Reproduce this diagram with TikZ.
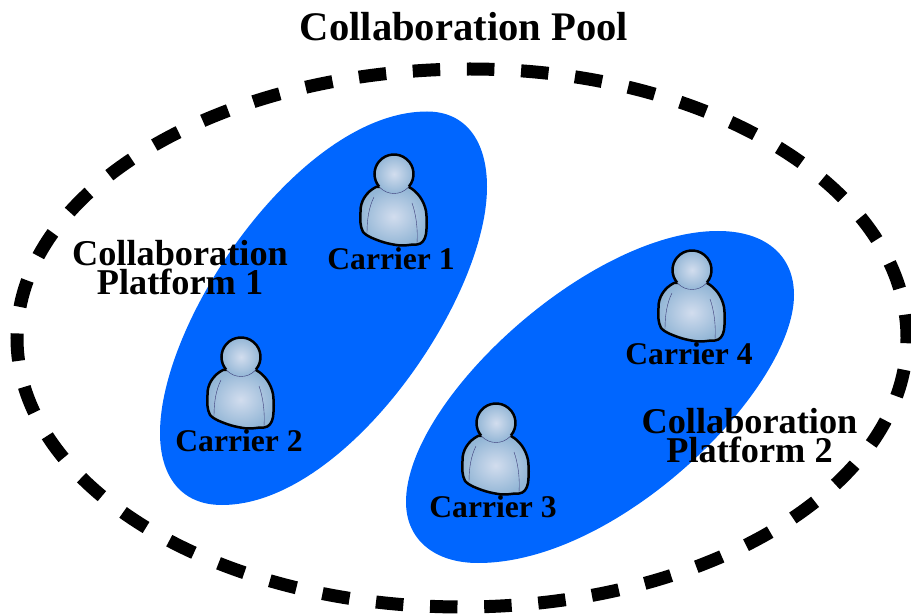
\documentclass[tikz,border=0pt]{standalone}
\usepackage{fontspec}
\setmainfont{Liberation Serif}
\definecolor{platformblue}{HTML}{0066FF}
\definecolor{bodyinner}{HTML}{D2DDEE}
\definecolor{bodyouter}{HTML}{93B6D6}
\definecolor{creaseline}{HTML}{3C3C78}
\begin{document}
\begin{tikzpicture}[x=1pt,y=1pt,inner sep=0pt,outer sep=0pt,
platform/.style={fill=platformblue},
pool/.style={line width=13pt,dash pattern=on 27.5pt off 26.7pt,dash phase=4pt},
titletext/.style={font=\fontsize{40.6}{41}\selectfont\bfseries},
platformtext/.style={font=\fontsize{36.3}{28.5}\selectfont\bfseries,align=center},
carriertext/.style={font=\fontsize{31.6}{32}\selectfont\bfseries},
carrier/.pic={
  \draw[line width=2.5pt,inner color=bodyinner,outer color=bodyouter,line join=round]
    (-18,-13) .. controls (-28,-18) and (-34,-28) .. (-33.5,-38)
    .. controls (-34,-46) and (-34,-52) .. (-31,-58)
    .. controls (-28,-61) and (-26,-62) .. (-23,-63.5)
    .. controls (-15,-67) and (-7,-70) .. (6,-71.5)
    .. controls (12,-72) and (18,-70) .. (23,-70.5)
    .. controls (28,-70) and (31,-66) .. (32,-60)
    .. controls (33,-52) and (33,-45) .. (32,-37)
    .. controls (30,-27) and (24,-18) .. (15,-13) -- cycle;
  \draw[creaseline,thin] (-20,-23) .. controls (-25,-33) and (-27,-45) .. (-27,-59);
  \draw[creaseline,thin] (18,-29) .. controls (22,-40) and (24,-55) .. (23,-69);
  \shade[inner color=bodyinner,outer color=bodyouter] (0,0) circle (19.5);
  \draw[creaseline,thin] (0,0) circle (19.5);
  \draw[line width=2.5pt] (-40:19.5) arc (-40:220:19.5);
}]
\useasboundingbox (0,0) rectangle (911,614);

\fill[platform] (427,502.5) .. controls (465,502.5) and (487,474) .. (487,427)
  .. controls (487,314) and (345,109) .. (222,109)
  .. controls (180,109) and (160,139) .. (160,181)
  .. controls (160,296) and (302,502.5) .. (427,502.5) -- cycle;
\fill[platform] (718,383) .. controls (765,383) and (794,359) .. (794,319)
  .. controls (794,226) and (620,51) .. (478,51)
  .. controls (435,51) and (406,74) .. (406,112)
  .. controls (406,214) and (590,383) .. (718,383) -- cycle;
\draw[pool] (907,276) .. controls (907,424.6) and (711,545) .. (470,545)
  .. controls (220,545) and (17,424.6) .. (17,276)
  .. controls (17,127.4) and (216,7) .. (462,7)
  .. controls (708,7) and (907,127.4) .. (907,276) -- cycle;

\draw (394,440) pic {carrier};
\draw (241,257) pic {carrier};
\draw (496,191) pic {carrier};
\draw (692,344) pic {carrier};

\draw (464,587) node[titletext] (title) {Collaboration Pool};
\draw (180,346.5) node[platformtext] (platform1) {Collaboration\\Platform 1};
\draw (749.5,178.5) node[platformtext] (platform2) {Collaboration\\Platform 2};
\draw (391,355.5) node[carriertext] (carrier1) {Carrier 1};
\draw (239,173.5) node[carriertext] (carrier2) {Carrier 2};
\draw (493,107) node[carriertext] (carrier3) {Carrier 3};
\draw (689,260) node[carriertext] (carrier4) {Carrier 4};
\end{tikzpicture}
\end{document}
